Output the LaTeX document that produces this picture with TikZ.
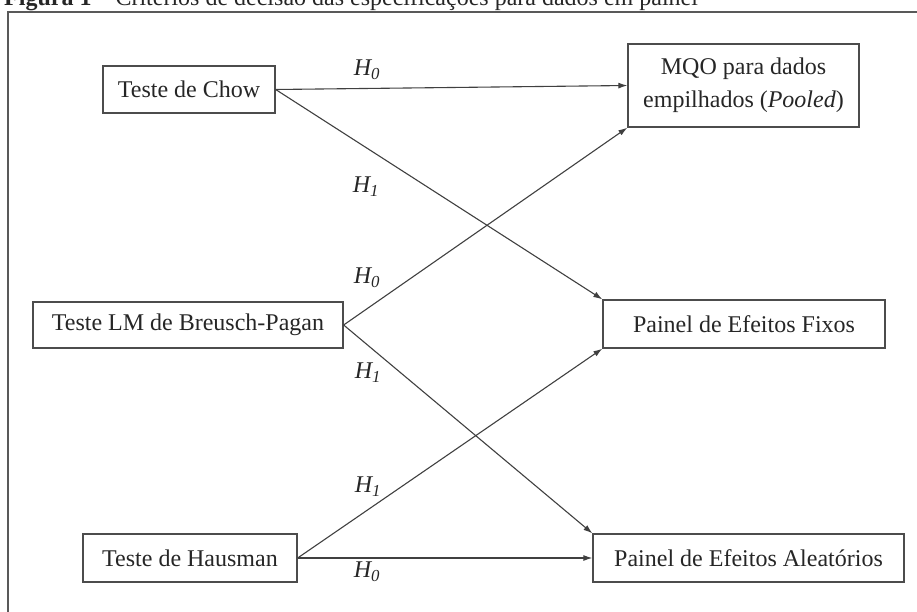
\documentclass[tikz,border=0pt]{standalone}
\usepackage{fontspec}
\setmainfont{Liberation Serif}
\usetikzlibrary{arrows.meta}

\begin{document}
\begin{tikzpicture}[x=1pt,y=1pt]
        \tikzstyle{every node}+=[inner sep=0pt]
        \tikzset{
          caixa/.style={draw=black!70, line width=1.3pt, text=black!85,
            font=\fontsize{24}{33}\selectfont},
          seta/.style={black!75, line width=1.1pt, -{Latex[length=9pt,width=6pt]}},
          hip/.style={text=black!85, font=\fontsize{24}{27}\selectfont\itshape}
        }
        \useasboundingbox (0,0) rectangle (917,-612);
        \clip (0,0) rectangle (917,-612);
        % title line, cut off at the top
        \node [anchor=base west, text=black!85, font=\fontsize{24}{27}\selectfont] (titulo) at (4,-6)
          {\textbf{Figura 1} – Critérios de decisão das especificações para dados em painel};
        \draw [black!65, line width=2pt] (8,-630) -- (8,-12) -- (930,-12);
        % boxes
        \node [caixa, minimum width=172pt, minimum height=47pt] (chow) at (189,-89.5) {Teste de Chow};
        \node [caixa, minimum width=231pt, minimum height=83pt, align=center] (mqo) at (743.5,-85.5)
          {MQO para dados\\empilhados (\textit{Pooled})};
        \node [caixa, minimum width=310pt, minimum height=46pt] (bp) at (188,-325) {Teste LM de Breusch-Pagan};
        \node [caixa, minimum width=282pt, minimum height=48pt] (fixos) at (744,-324) {Painel de Efeitos Fixos};
        \node [caixa, minimum width=214pt, minimum height=48pt] (hausman) at (190,-558) {Teste de Hausman};
        \node [caixa, minimum width=311pt, minimum height=48pt] (aleat) at (748.5,-558) {Painel de Efeitos Aleatórios};
        % arrows
        \draw [seta] (chow.east) -- (mqo.west);
        \draw [seta] (chow.east) -- (fixos.north west);
        \draw [seta] (bp.east) -- (mqo.south west);
        \draw [seta] (bp.east) -- (aleat.north west);
        \draw [seta] (hausman.east) -- (fixos.south west);
        \draw [seta] (hausman.east) -- (aleat.west);
        % hypotheses
        \node [hip] (h0a) at (367,-70) {H\textsubscript{0}};
        \node [hip] (h1a) at (366,-187) {H\textsubscript{1}};
        \node [hip] (h0b) at (367,-278) {H\textsubscript{0}};
        \node [hip] (h1b) at (368,-373) {H\textsubscript{1}};
        \node [hip] (h1c) at (368,-487) {H\textsubscript{1}};
        \node [hip] (h0c) at (367,-572) {H\textsubscript{0}};
\end{tikzpicture}
\end{document}
